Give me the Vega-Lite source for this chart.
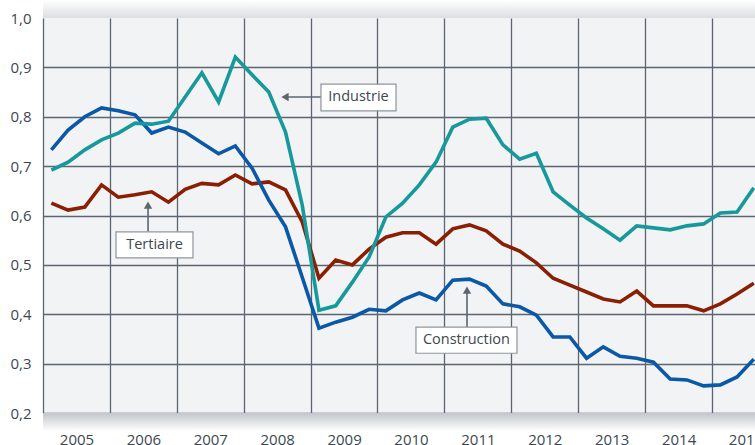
{
  "$schema": "https://vega.github.io/schema/vega-lite/v6.json",
  "autosize": "none",
  "width": 712,
  "height": 395,
  "padding": {"left": 43, "top": 18, "right": 0, "bottom": 32},
  "background": "#ffffff",
  "config": {
    "view": {"fill": "#f1f3f5", "stroke": null},
    "font": "Open Sans",
    "axis": {
      "labelFont": "Open Sans",
      "labelFontSize": 15,
      "labelColor": "#3c4752",
      "grid": true,
      "gridColor": "#5b6670",
      "gridWidth": 1.3,
      "gridOpacity": 1,
      "domain": false,
      "ticks": false,
      "title": null
    }
  },
  "datasets": {
    "series": [
      {"t": 2005.125, "Construction": 0.733, "Industrie": 0.692, "Tertiaire": 0.625},
      {"t": 2005.375, "Construction": 0.773, "Industrie": 0.708, "Tertiaire": 0.611},
      {"t": 2005.625, "Construction": 0.800, "Industrie": 0.733, "Tertiaire": 0.617},
      {"t": 2005.875, "Construction": 0.818, "Industrie": 0.753, "Tertiaire": 0.662},
      {"t": 2006.125, "Construction": 0.812, "Industrie": 0.767, "Tertiaire": 0.637},
      {"t": 2006.375, "Construction": 0.804, "Industrie": 0.787, "Tertiaire": 0.642},
      {"t": 2006.625, "Construction": 0.767, "Industrie": 0.785, "Tertiaire": 0.648},
      {"t": 2006.875, "Construction": 0.779, "Industrie": 0.791, "Tertiaire": 0.627},
      {"t": 2007.125, "Construction": 0.769, "Industrie": 0.840, "Tertiaire": 0.653},
      {"t": 2007.375, "Construction": 0.747, "Industrie": 0.889, "Tertiaire": 0.665},
      {"t": 2007.625, "Construction": 0.725, "Industrie": 0.830, "Tertiaire": 0.662},
      {"t": 2007.875, "Construction": 0.741, "Industrie": 0.921, "Tertiaire": 0.682},
      {"t": 2008.125, "Construction": 0.696, "Industrie": 0.885, "Tertiaire": 0.664},
      {"t": 2008.375, "Construction": 0.631, "Industrie": 0.850, "Tertiaire": 0.668},
      {"t": 2008.625, "Construction": 0.577, "Industrie": 0.769, "Tertiaire": 0.652},
      {"t": 2008.875, "Construction": 0.475, "Industrie": 0.621, "Tertiaire": 0.587},
      {"t": 2009.125, "Construction": 0.372, "Industrie": 0.408, "Tertiaire": 0.473},
      {"t": 2009.375, "Construction": 0.384, "Industrie": 0.417, "Tertiaire": 0.510},
      {"t": 2009.625, "Construction": 0.394, "Industrie": 0.465, "Tertiaire": 0.500},
      {"t": 2009.875, "Construction": 0.410, "Industrie": 0.516, "Tertiaire": 0.532},
      {"t": 2010.125, "Construction": 0.407, "Industrie": 0.597, "Tertiaire": 0.556},
      {"t": 2010.375, "Construction": 0.429, "Industrie": 0.625, "Tertiaire": 0.565},
      {"t": 2010.625, "Construction": 0.443, "Industrie": 0.662, "Tertiaire": 0.565},
      {"t": 2010.875, "Construction": 0.429, "Industrie": 0.708, "Tertiaire": 0.542},
      {"t": 2011.125, "Construction": 0.469, "Industrie": 0.779, "Tertiaire": 0.573},
      {"t": 2011.375, "Construction": 0.471, "Industrie": 0.795, "Tertiaire": 0.581},
      {"t": 2011.625, "Construction": 0.457, "Industrie": 0.797, "Tertiaire": 0.569},
      {"t": 2011.875, "Construction": 0.421, "Industrie": 0.743, "Tertiaire": 0.542},
      {"t": 2012.125, "Construction": 0.415, "Industrie": 0.714, "Tertiaire": 0.528},
      {"t": 2012.375, "Construction": 0.398, "Industrie": 0.726, "Tertiaire": 0.504},
      {"t": 2012.625, "Construction": 0.354, "Industrie": 0.648, "Tertiaire": 0.473},
      {"t": 2012.875, "Construction": 0.354, "Industrie": 0.621, "Tertiaire": 0.459},
      {"t": 2013.125, "Construction": 0.311, "Industrie": 0.595, "Tertiaire": 0.445},
      {"t": 2013.375, "Construction": 0.334, "Industrie": 0.573, "Tertiaire": 0.431},
      {"t": 2013.625, "Construction": 0.315, "Industrie": 0.550, "Tertiaire": 0.425},
      {"t": 2013.875, "Construction": 0.311, "Industrie": 0.579, "Tertiaire": 0.447},
      {"t": 2014.125, "Construction": 0.303, "Industrie": 0.575, "Tertiaire": 0.417},
      {"t": 2014.375, "Construction": 0.269, "Industrie": 0.571, "Tertiaire": 0.417},
      {"t": 2014.625, "Construction": 0.267, "Industrie": 0.579, "Tertiaire": 0.417},
      {"t": 2014.875, "Construction": 0.255, "Industrie": 0.583, "Tertiaire": 0.407},
      {"t": 2015.125, "Construction": 0.257, "Industrie": 0.605, "Tertiaire": 0.421},
      {"t": 2015.375, "Construction": 0.273, "Industrie": 0.607, "Tertiaire": 0.441},
      {"t": 2015.625, "Construction": 0.309, "Industrie": 0.656, "Tertiaire": 0.463}
    ],
    "notes": [
      {"label": "Industrie", "tx": 2009.716, "ty": 0.839, "bx1": 2009.155, "bx2": 2010.277, "by1": 0.812, "by2": 0.866, "ax1": 2009.155, "ax2": 2008.66, "ay1": 0.84, "ay2": 0.84, "hx": 2008.617, "hy": 0.84, "shape": "triangle-left"},
      {"label": "Tertiaire", "tx": 2006.667, "ty": 0.540, "bx1": 2006.091, "bx2": 2007.242, "by1": 0.514, "by2": 0.567, "ax1": 2006.57, "ax2": 2006.57, "ay1": 0.567, "ay2": 0.615, "hx": 2006.57, "hy": 0.621, "shape": "triangle-up"},
      {"label": "Construction", "tx": 2011.33, "ty": 0.348, "bx1": 2010.575, "bx2": 2012.085, "by1": 0.321, "by2": 0.374, "ax1": 2011.338, "ax2": 2011.338, "ay1": 0.374, "ay2": 0.443, "hx": 2011.338, "hy": 0.449, "shape": "triangle-up"}
    ]
  },
  "layer": [
    {
      "data": {"name": "series"},
      "transform": [{"fold": ["Tertiaire", "Construction", "Industrie"], "as": ["sector", "value"]}],
      "mark": {"type": "line", "strokeWidth": 3.6, "strokeJoin": "miter", "clip": true},
      "encoding": {
        "x": {
          "field": "t", "type": "quantitative",
          "scale": {"domain": [2005, 2015.643], "nice": false, "zero": false},
          "axis": {"grid": true, "values": [2005, 2006, 2007, 2008, 2009, 2010, 2011, 2012, 2013, 2014, 2015], "format": "d", "labelOffset": 33.5, "labelFlush": false, "labelOverlap": false, "labelBound": false, "labelPadding": 19}
        },
        "y": {
          "field": "value", "type": "quantitative",
          "scale": {"domain": [0.2, 1.0], "nice": false, "zero": false},
          "axis": {"grid": true, "values": [0.2, 0.3, 0.4, 0.5, 0.6, 0.7, 0.8, 0.9, 1.0], "labelExpr": "replace(format(datum.value, '.1f'), '.', ',')", "labelPadding": 12, "gridOpacity": {"condition": {"test": "datum.value >= 0.99", "value": 0}, "value": 1}}
        },
        "color": {"field": "sector", "type": "nominal", "scale": {"domain": ["Tertiaire", "Construction", "Industrie"], "range": ["#8a1f04", "#0a58a6", "#17999b"]}, "legend": null},
        "order": {"field": "t", "type": "quantitative"}
      }
    },
    {
      "data": {"values": [{}]},
      "mark": {"type": "rect", "fill": {"gradient": "linear", "x1": 0, "y1": 0, "x2": 0, "y2": 1, "stops": [{"offset": 0, "color": "#c2c6ca"}, {"offset": 1, "color": "#ffffff"}]}},
      "encoding": {
        "x": {"datum": 2005, "type": "quantitative"},
        "x2": {"datum": 2015.643},
        "y": {"datum": 0.2, "type": "quantitative"},
        "y2": {"datum": 0.163}
      }
    },
    {
      "data": {"values": [{}]},
      "mark": {"type": "rect", "fill": {"gradient": "linear", "x1": 0, "y1": 0, "x2": 0, "y2": 1, "stops": [{"offset": 0, "color": "#ffffff"}, {"offset": 1, "color": "#dcdee0"}]}},
      "encoding": {
        "x": {"datum": 2005, "type": "quantitative"},
        "x2": {"datum": 2015.643},
        "y": {"datum": 1.0365, "type": "quantitative"},
        "y2": {"datum": 1.0}
      }
    },
    {
      "data": {"name": "notes"},
      "mark": {"type": "rule", "color": "#5b6670", "strokeWidth": 1.6},
      "encoding": {
        "x": {"field": "ax1", "type": "quantitative"},
        "x2": {"field": "ax2"},
        "y": {"field": "ay1", "type": "quantitative"},
        "y2": {"field": "ay2"}
      }
    },
    {
      "data": {"name": "notes"},
      "mark": {"type": "point", "filled": true, "color": "#5b6670", "opacity": 1, "size": 70},
      "encoding": {
        "x": {"field": "hx", "type": "quantitative"},
        "y": {"field": "hy", "type": "quantitative"},
        "shape": {"field": "shape", "type": "nominal", "scale": null}
      }
    },
    {
      "data": {"name": "notes"},
      "mark": {"type": "rect", "fill": "#ffffff", "stroke": "#8d969e", "strokeWidth": 1.2},
      "encoding": {
        "x": {"field": "bx1", "type": "quantitative"},
        "x2": {"field": "bx2"},
        "y": {"field": "by1", "type": "quantitative"},
        "y2": {"field": "by2"}
      }
    },
    {
      "data": {"name": "notes"},
      "mark": {"type": "text", "font": "Open Sans", "fontSize": 14.5, "color": "#3c4752", "align": "center", "baseline": "middle"},
      "encoding": {
        "x": {"field": "tx", "type": "quantitative"},
        "y": {"field": "ty", "type": "quantitative"},
        "text": {"field": "label"}
      }
    }
  ]
}
